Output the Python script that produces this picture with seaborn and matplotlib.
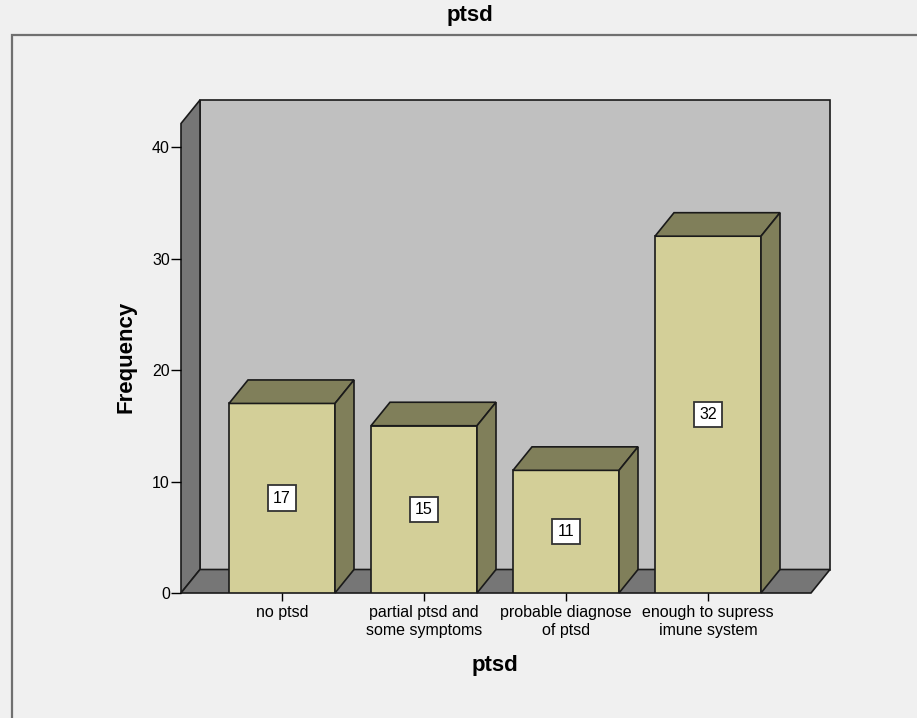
import matplotlib
matplotlib.use("Agg")
import matplotlib.pyplot as plt
import seaborn as sns
import pandas as pd
from matplotlib.patches import Polygon, Rectangle

# ---- data ----
categories = ["no ptsd", "partial ptsd and\nsome symptoms",
              "probable diagnose\nof ptsd", "enough to supress\nimune system"]
counts = [17, 15, 11, 32]
y_ticks = [0, 10, 20, 30, 40]
title = "ptsd"
x_title = "ptsd"
y_title = "Frequency"

# ---- style ----
sns.set_style("white")
plt.rcParams["font.family"] = ["Liberation Sans", "DejaVu Sans"]
plt.rcParams["text.color"] = "black"
plt.rcParams["xtick.color"] = "black"
plt.rcParams["ytick.color"] = "black"
plt.rcParams["xtick.labelcolor"] = "black"
plt.rcParams["ytick.labelcolor"] = "black"

BG = "#f0f0f0"
FRONT = "#d3cf98"
DARKFACE = "#807f5a"
BACKWALL = "#c0c0c0"
SIDEWALL = "#767676"
EDGE = "#1a1a1a"

W, H = 917, 718
fig = plt.figure(figsize=(W / 100, H / 100), dpi=100, facecolor=BG)

# pixel geometry
x0px, y0px = 181, 593
toppx = 90
rightpx = 845
ppx_x = 142.0     # pixels per category
ppx_y = 11.15     # pixels per unit
ax = fig.add_axes([x0px / W, (H - y0px) / H, (rightpx - x0px) / W, (y0px - toppx) / H])
ax.set_facecolor("none")

xl = (x0px - 282) / ppx_x
xr = xl + (rightpx - x0px) / ppx_x
ytop = (y0px - toppx) / ppx_y

DX = 19 / ppx_x
DY = 23.5 / ppx_y
wall_top = (y0px - 100) / ppx_y
floor_right = (811 - 282) / ppx_x

df = pd.DataFrame({"cat": categories, "n": counts})
sns.barplot(data=df, x="cat", y="n", order=categories, color=FRONT, saturation=1,
            width=106 / ppx_x, edgecolor=EDGE, linewidth=1.2, ax=ax, zorder=2)
bars = list(ax.containers[0])

ax.set_xlim(xl, xr)
ax.set_ylim(0, ytop)

# walls & floor
ax.add_patch(Polygon([(xl + DX, DY), (floor_right + DX, DY), (floor_right + DX, wall_top),
                      (xl + DX, wall_top)], closed=True, facecolor=BACKWALL,
                     edgecolor=EDGE, lw=1.2, zorder=0.2, clip_on=False))
ax.add_patch(Polygon([(xl, 0), (xl + DX, DY), (xl + DX, wall_top), (xl, wall_top - DY)],
                     closed=True, facecolor=SIDEWALL, edgecolor=EDGE, lw=1.2,
                     zorder=0.3, clip_on=False))
ax.add_patch(Polygon([(xl, 0), (floor_right, 0), (floor_right + DX, DY), (xl + DX, DY)],
                     closed=True, facecolor=SIDEWALL, edgecolor=EDGE, lw=1.2,
                     zorder=0.3, clip_on=False))

for b, v in zip(bars, counts):
    b.set_zorder(2)
    x, w, h = b.get_x(), b.get_width(), b.get_height()
    ax.add_patch(Polygon([(x, h), (x + w, h), (x + w + DX, h + DY), (x + DX, h + DY)],
                         closed=True, facecolor=DARKFACE, edgecolor=EDGE, lw=1.2,
                         zorder=2, clip_on=False))
    ax.add_patch(Polygon([(x + w, 0), (x + w + DX, DY), (x + w + DX, h + DY), (x + w, h)],
                         closed=True, facecolor=DARKFACE, edgecolor=EDGE, lw=1.2,
                         zorder=2, clip_on=False))
    ax.text(x + w / 2, h / 2, str(v), ha="center", va="center", fontsize=11.5,
            color="black", zorder=4,
            bbox=dict(boxstyle="square,pad=0.33", facecolor="white",
                      edgecolor="#333333", lw=1.3))

# axes styling
for s in ["top", "right", "bottom", "left"]:
    ax.spines[s].set_visible(False)
ax.set_yticks(y_ticks)
ax.set_xticks(range(len(categories)))
ax.set_xticklabels(categories, fontsize=11.5, linespacing=1.2)
ax.tick_params(axis="y", direction="out", length=7, width=1, color="black",
               labelsize=11.5, pad=1, left=True)
ax.tick_params(axis="x", direction="out", length=6, width=1, color="black",
               labelsize=11.5, pad=3, bottom=True)
ax.set_xlim(xl, xr)
ax.set_ylim(0, ytop)
ax.set_xlabel("")
ax.set_ylabel("")

# texts
fig.text(470 / W, 1 - 16 / H, title, ha="center", va="center", fontsize=16,
         fontweight="bold")
fig.text(495 / W, 1 - 666 / H, x_title, ha="center", va="center", fontsize=16,
         fontweight="bold")
fig.text(126 / W, 1 - 357 / H, y_title, ha="center", va="center", fontsize=16,
         fontweight="bold", rotation=90)

# outer frame
fig.add_artist(Rectangle((12 / W, -0.05), 1.0, 1 - 35 / H + 0.05, transform=fig.transFigure,
                         facecolor="none", edgecolor="#707070", lw=1.6))

fig.savefig("out.png", dpi=100, facecolor=BG)
